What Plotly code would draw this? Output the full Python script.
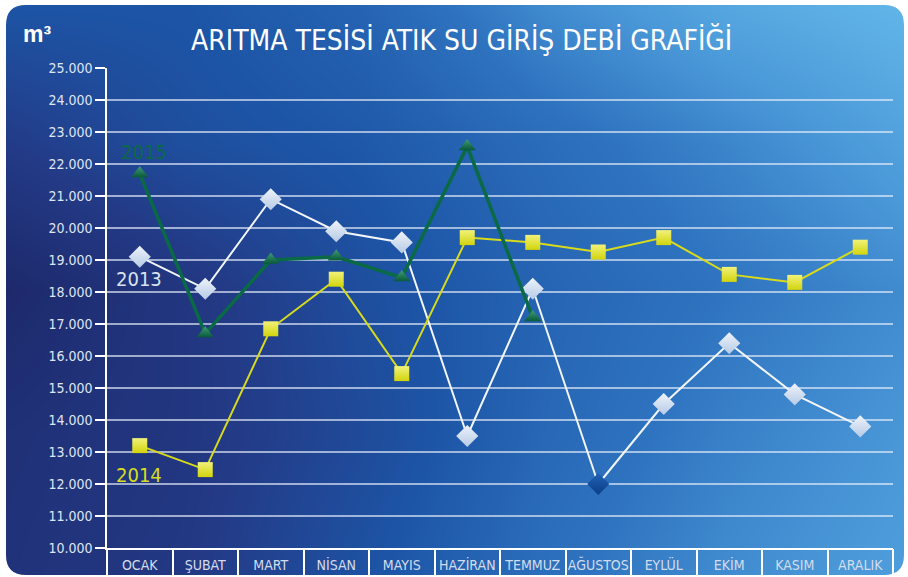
import plotly.graph_objects as go

W, H = 908, 577

months = ["OCAK", "ŞUBAT", "MART", "NİSAN", "MAYIS", "HAZİRAN",
          "TEMMUZ", "AĞUSTOS", "EYLÜL", "EKİM", "KASIM", "ARALIK"]
y2013 = [19100, 18100, 20900, 19900, 19550, 13500, 18100, 12000, 14500, 16400, 14800, 13800]
y2014 = [13200, 12450, 16850, 18400, 15450, 19700, 19550, 19250, 19700, 18550, 18300, 19400]
y2015 = [21700, 16700, 19000, 19100, 18450, 22550, 17200, None, None, None, None, None]

# background shade grid (rows top -> bottom)
bg_x = [0, 0.2, 0.4, 0.6, 0.8, 1.0]
bg_y = [1.0, 0.75, 0.5, 0.25, 0.0]
bg_z = [
    [0.50, 0.50, 0.60, 0.80, 0.93, 1.00],
    [0.30, 0.45, 0.52, 0.65, 0.77, 0.90],
    [0.08, 0.25, 0.45, 0.60, 0.70, 0.80],
    [0.18, 0.25, 0.42, 0.62, 0.75, 0.85],
    [0.20, 0.28, 0.48, 0.67, 0.80, 0.88],
]
bg_scale = [[0, "#1b2260"], [0.3, "#233a86"], [0.5, "#1d55a6"],
            [0.7, "#2f74c0"], [0.85, "#4a98d8"], [1, "#62b6e8"]]

FONT = "Liberation Sans Narrow, DejaVu Sans Condensed, Roboto, sans-serif"


def px(x, y):
    return x / W, 1 - y / H


fig = go.Figure()

# gradient panel
fig.add_trace(go.Heatmap(x=bg_x, y=bg_y, z=bg_z, colorscale=bg_scale, zmin=0, zmax=1,
                         zsmooth="best", showscale=False, hoverinfo="skip",
                         xaxis="x", yaxis="y"))

# 2013
c2013 = ["#eef3fa"] * 12
c2013[7] = "#1f62b4"
g2013 = ["#b6cae6"] * 12
g2013[7] = "#0c3d88"
fig.add_trace(go.Scatter(
    x=months, y=y2013, mode="lines+markers", name="2013",
    line=dict(color="#f2f6fb", width=2),
    marker=dict(symbol="diamond", size=17, color=c2013,
                gradient=dict(type="vertical", color=g2013), line=dict(width=0)),
    xaxis="x2", yaxis="y2"))

# 2014
fig.add_trace(go.Scatter(
    x=months, y=y2014, mode="lines+markers", name="2014",
    line=dict(color="#d8da1c", width=2),
    marker=dict(symbol="square", size=15, color="#f1f27a",
                gradient=dict(type="vertical", color="#d2d40c"), line=dict(width=0)),
    xaxis="x2", yaxis="y2"))

# 2015
fig.add_trace(go.Scatter(
    x=months, y=y2015, mode="lines+markers", name="2015",
    line=dict(color="#0a6a45", width=3.5),
    marker=dict(symbol="triangle-up", size=15, color="#3f9c74",
                gradient=dict(type="vertical", color="#08593a"), line=dict(width=0)),
    xaxis="x2", yaxis="y2"))

# empty trace so the separator axis gets drawn
fig.add_trace(go.Scatter(x=[None], y=[None], mode="markers", hoverinfo="skip",
                         xaxis="x3", yaxis="y2"))

# rounded panel mask
outer = [(0, 0), (W, 0), (W, H), (0, H)]
L, T, R, B, r = 6, 5, 904, 575, 20


def pt(x, y):
    a, b = px(x, y)
    return f"{a:.5f},{b:.5f}"


path = "M" + " L".join(pt(*p) for p in outer) + " Z "
path += (f"M{pt(L + r, T)} Q{pt(L, T)} {pt(L, T + r)} L{pt(L, B - r)} "
         f"Q{pt(L, B)} {pt(L + r, B)} L{pt(R - r, B)} Q{pt(R, B)} {pt(R, B - r)} "
         f"L{pt(R, T + r)} Q{pt(R, T)} {pt(R - r, T)} Z")

x0, x1 = 107, 893
ytop, ybot = 68, 548
n = len(months)

fig.update_layout(
    width=W, height=H,
    margin=dict(l=0, r=0, t=0, b=0, autoexpand=False),
    paper_bgcolor="white", plot_bgcolor="rgba(0,0,0,0)",
    separators=",.",
    showlegend=False,
    font=dict(family=FONT, color="#dfe6f1"),
    xaxis=dict(domain=[0, 1], range=[0, 1], visible=False, fixedrange=True),
    yaxis=dict(domain=[0, 1], range=[0, 1], visible=False, fixedrange=True),
    xaxis2=dict(domain=[x0 / W, x1 / W], anchor="y2", type="category",
                categoryorder="array", categoryarray=months, range=[-0.5, n - 0.5],
                showgrid=False, showline=True, linecolor="white", linewidth=1.5,
                ticks="", tickangle=0, ticklabelstandoff=3,
                tickfont=dict(size=14, color="#d3dcec", family=FONT)),
    # category separators below the axis
    xaxis3=dict(overlaying="x2", anchor="y2", type="linear", range=[-0.5, n - 0.5],
                tickvals=[i - 0.5 for i in range(n + 1)], showticklabels=False,
                showgrid=False, showline=False, zeroline=False,
                ticks="outside", ticklen=29, tickwidth=1.5, tickcolor="white"),
    yaxis2=dict(domain=[1 - ybot / H, 1 - ytop / H], anchor="x2", range=[10000, 25000],
                dtick=1000, tickformat=",d", showgrid=True,
                gridcolor="rgba(230,238,250,0.65)", gridwidth=1.5, zeroline=False,
                showline=True, linecolor="white", linewidth=1.5,
                ticks="outside", ticklen=10, tickwidth=1.5, tickcolor="white",
                tickfont=dict(size=14, color="#dfe6f1", family=FONT)),
    shapes=[dict(type="path", path=path, xref="paper", yref="paper",
                 fillcolor="white", line=dict(width=0), layer="above")],
)


def label(x, y, text, size, color, family=FONT):
    a, b = px(x, y)
    fig.add_annotation(x=a, y=b, xref="paper", yref="paper", text=text, showarrow=False,
                       xanchor="center", yanchor="middle",
                       font=dict(size=size, color=color, family=family))


label(37, 34, "<b>m³</b>", 23, "white", "Liberation Sans, sans-serif")
label(462, 40, "ARITMA TESİSİ ATIK SU GİRİŞ DEBİ GRAFİĞİ", 28, "white")
label(144, 152, "2015", 20, "#0b6a45")
label(139, 279, "2013", 20, "#d9e3f0")
label(139, 475, "2014", 20, "#d9dc22")

fig.write_html("out.html", config={"displayModeBar": False},
               post_script="document.body.style.margin='0';")
